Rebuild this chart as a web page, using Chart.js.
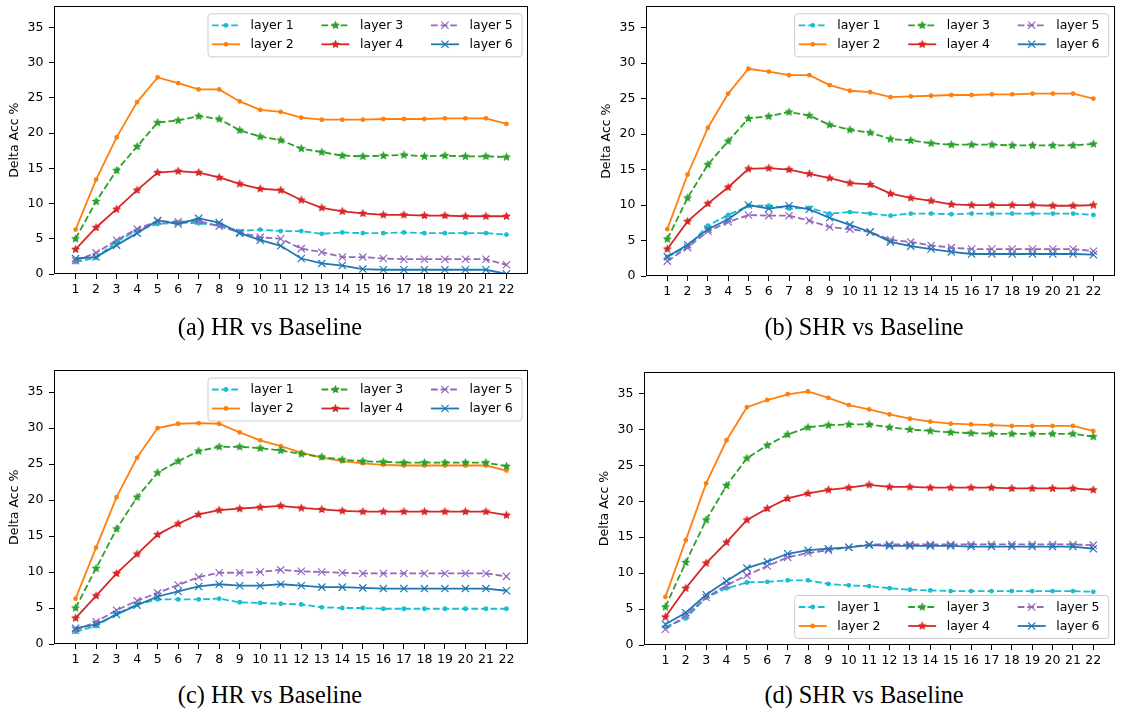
<!DOCTYPE html>
<html>
<head>
<meta charset="utf-8">
<script src="https://cdn.jsdelivr.net/npm/chart.js@4.4.1/dist/chart.umd.min.js"></script>
<style>
body { margin: 0; background: #fff; width: 1121px; height: 713px; position: relative; overflow: hidden; }
canvas { position: absolute; }
.cap { position: absolute; width: 400px; text-align: center; font-family: "Liberation Serif", serif; font-size: 26px; line-height: 26px; color: #000; white-space: nowrap; transform: scaleX(0.935); transform-origin: center; }
</style>
</head>
<body>
<canvas id="chartA" width="540" height="300" style="left:0px;top:0px"></canvas>
<canvas id="chartB" width="529" height="300" style="left:592px;top:0px"></canvas>
<canvas id="chartC" width="540" height="330" style="left:0px;top:340px"></canvas>
<canvas id="chartD" width="531" height="330" style="left:590px;top:340px"></canvas>
<div class="cap" style="left:70px;top:314px">(a) HR vs Baseline</div>
<div class="cap" style="left:664px;top:314px">(b) SHR vs Baseline</div>
<div class="cap" style="left:70px;top:682px">(c) HR vs Baseline</div>
<div class="cap" style="left:664px;top:682px">(d) SHR vs Baseline</div>
<script>
const xLabels = [1, 2, 3, 4, 5, 6, 7, 8, 9, 10, 11, 12, 13, 14, 15, 16, 17, 18, 19, 20, 21, 22];
const yTicks = [0, 5, 10, 15, 20, 25, 30, 35];
const layerNames = ["layer 1", "layer 2", "layer 3", "layer 4", "layer 5", "layer 6"];
const layerColors = ["#17becf", "#ff7f0e", "#2ca02c", "#d62728", "#9467bd", "#1f77b4"];

// (a) HR vs Baseline
const a_layer1 = [1.7, 2.3, 4.6, 6.2, 7.1, 7.3, 7.2, 6.9, 6.1, 6.3, 6.1, 6.1, 5.7, 5.9, 5.8, 5.8, 5.9, 5.8, 5.8, 5.8, 5.8, 5.6];
const a_layer2 = [6.3, 13.4, 19.4, 24.4, 27.9, 27.1, 26.2, 26.2, 24.5, 23.3, 23.0, 22.2, 21.9, 21.9, 21.9, 22.0, 22.0, 22.0, 22.1, 22.1, 22.1, 21.3];
const a_layer3 = [5.0, 10.3, 14.7, 18.1, 21.5, 21.8, 22.4, 22.0, 20.4, 19.5, 19.0, 17.8, 17.3, 16.8, 16.7, 16.8, 16.9, 16.7, 16.8, 16.7, 16.7, 16.6];
const a_layer4 = [3.5, 6.6, 9.2, 11.9, 14.4, 14.6, 14.4, 13.7, 12.8, 12.1, 11.9, 10.5, 9.4, 8.9, 8.6, 8.4, 8.4, 8.3, 8.3, 8.2, 8.2, 8.2];
const a_layer5 = [1.9, 3.0, 4.8, 6.4, 7.5, 7.4, 7.5, 6.8, 5.9, 5.2, 5.0, 3.6, 3.1, 2.4, 2.4, 2.2, 2.1, 2.1, 2.1, 2.1, 2.1, 1.3];
const a_layer6 = [2.2, 2.4, 4.1, 5.8, 7.6, 7.1, 7.9, 7.3, 5.8, 4.8, 4.0, 2.2, 1.5, 1.2, 0.7, 0.6, 0.6, 0.6, 0.6, 0.6, 0.6, 0.0];

// (b) SHR vs Baseline
const b_layer1 = [2.7, 4.1, 7.1, 8.6, 9.9, 9.9, 9.5, 9.6, 8.8, 9.0, 8.8, 8.5, 8.8, 8.8, 8.7, 8.8, 8.8, 8.8, 8.8, 8.8, 8.8, 8.6];
const b_layer2 = [6.6, 14.3, 20.9, 25.7, 29.2, 28.8, 28.3, 28.3, 26.9, 26.1, 25.9, 25.2, 25.3, 25.4, 25.5, 25.5, 25.6, 25.6, 25.7, 25.7, 25.7, 25.0];
const b_layer3 = [5.2, 11.0, 15.7, 19.0, 22.2, 22.5, 23.1, 22.6, 21.3, 20.6, 20.2, 19.3, 19.1, 18.7, 18.5, 18.5, 18.5, 18.4, 18.4, 18.4, 18.4, 18.6];
const b_layer4 = [3.8, 7.7, 10.2, 12.5, 15.1, 15.2, 15.0, 14.4, 13.8, 13.1, 12.9, 11.6, 11.0, 10.6, 10.1, 10.0, 10.0, 10.0, 10.0, 9.9, 9.9, 10.0];
const b_layer5 = [2.1, 4.0, 6.3, 7.6, 8.6, 8.5, 8.5, 7.8, 6.9, 6.6, 6.2, 5.1, 4.8, 4.3, 4.0, 3.8, 3.8, 3.8, 3.8, 3.8, 3.8, 3.5];
const b_layer6 = [2.7, 4.4, 6.6, 8.0, 10.0, 9.5, 9.9, 9.4, 8.2, 7.2, 6.2, 4.8, 4.2, 3.8, 3.4, 3.1, 3.1, 3.1, 3.1, 3.1, 3.1, 3.0];

// (c) HR vs Baseline
const c_layer1 = [1.7, 2.5, 4.2, 5.5, 6.2, 6.2, 6.2, 6.3, 5.8, 5.7, 5.6, 5.5, 5.1, 5.0, 5.0, 4.9, 4.9, 4.9, 4.9, 4.9, 4.9, 4.9];
const c_layer2 = [6.3, 13.4, 20.4, 25.9, 30.0, 30.6, 30.7, 30.6, 29.4, 28.3, 27.5, 26.6, 25.9, 25.4, 25.1, 24.9, 24.8, 24.8, 24.8, 24.8, 24.8, 24.1];
const c_layer3 = [5.0, 10.5, 16.0, 20.4, 23.8, 25.4, 26.8, 27.4, 27.4, 27.2, 26.9, 26.4, 26.0, 25.6, 25.4, 25.3, 25.2, 25.2, 25.2, 25.2, 25.2, 24.7];
const c_layer4 = [3.6, 6.7, 9.8, 12.5, 15.2, 16.7, 18.0, 18.6, 18.8, 19.0, 19.2, 18.9, 18.7, 18.5, 18.4, 18.4, 18.4, 18.4, 18.4, 18.4, 18.4, 17.9];
const c_layer5 = [1.9, 3.1, 4.7, 6.0, 7.1, 8.2, 9.3, 9.9, 9.9, 10.0, 10.3, 10.1, 10.0, 9.9, 9.8, 9.8, 9.8, 9.8, 9.8, 9.8, 9.8, 9.4];
const c_layer6 = [2.2, 2.7, 4.1, 5.4, 6.6, 7.3, 8.0, 8.3, 8.1, 8.1, 8.3, 8.1, 7.9, 7.9, 7.8, 7.7, 7.7, 7.7, 7.7, 7.7, 7.7, 7.4];

// (d) SHR vs Baseline
const d_layer1 = [2.5, 3.7, 6.6, 7.9, 8.7, 8.8, 9.0, 9.0, 8.5, 8.3, 8.2, 7.9, 7.7, 7.6, 7.5, 7.5, 7.5, 7.5, 7.5, 7.5, 7.5, 7.4];
const d_layer2 = [6.7, 14.6, 22.5, 28.5, 33.1, 34.1, 34.9, 35.3, 34.4, 33.4, 32.8, 32.1, 31.5, 31.1, 30.8, 30.7, 30.6, 30.5, 30.5, 30.5, 30.5, 29.8];
const d_layer3 = [5.3, 11.5, 17.4, 22.2, 26.0, 27.8, 29.3, 30.3, 30.6, 30.7, 30.7, 30.3, 30.0, 29.8, 29.6, 29.5, 29.4, 29.4, 29.4, 29.4, 29.4, 29.0];
const d_layer4 = [3.9, 7.9, 11.4, 14.3, 17.4, 19.0, 20.4, 21.1, 21.6, 21.9, 22.3, 22.0, 22.0, 21.9, 21.9, 21.9, 21.9, 21.8, 21.8, 21.8, 21.8, 21.6];
const d_layer5 = [2.2, 4.1, 6.6, 8.3, 9.7, 11.0, 12.2, 12.8, 13.2, 13.6, 14.0, 14.0, 14.0, 14.0, 14.0, 14.0, 14.0, 14.0, 14.0, 14.0, 14.0, 13.9];
const d_layer6 = [2.9, 4.5, 7.0, 8.9, 10.7, 11.6, 12.7, 13.2, 13.4, 13.6, 13.9, 13.8, 13.8, 13.8, 13.8, 13.7, 13.7, 13.7, 13.7, 13.7, 13.7, 13.4];

const fontSize = 12.5;
Chart.defaults.font.family = "'DejaVu Sans', sans-serif";
Chart.defaults.font.size = fontSize;
Chart.defaults.color = "#000";

const dashPattern = [6.7, 2.9];

// filled five point star like matplotlib's '*'
function makeStar(color) {
    const c = document.createElement("canvas");
    c.width = 11; c.height = 11;
    const g = c.getContext("2d");
    const R = 3.7, r = R * 0.382;
    g.beginPath();
    for (let k = 0; k < 10; k++) {
        const ang = -Math.PI / 2 + k * Math.PI / 5;
        const rad = k % 2 === 0 ? R : r;
        const px = 5.5 + rad * Math.cos(ang), py = 5.5 + rad * Math.sin(ang);
        if (k === 0) g.moveTo(px, py); else g.lineTo(px, py);
    }
    g.closePath();
    g.fillStyle = color; g.strokeStyle = color;
    g.lineWidth = 1.1; g.lineJoin = "round";
    g.fill(); g.stroke();
    return c;
}
const starImgs = layerColors.map(makeStar);

function buildDatasets(series) {
    return series.map((values, i) => {
        const marker = i < 2 ? "dot" : (i < 4 ? "star" : "x");
        return {
            label: layerNames[i],
            data: values,
            borderColor: layerColors[i],
            backgroundColor: layerColors[i],
            borderWidth: 1.8,
            borderDash: i % 2 === 0 ? dashPattern : [],
            fill: false,
            tension: 0,
            pointStyle: marker === "dot" ? "circle" : (marker === "star" ? starImgs[i] : "crossRot"),
            pointRadius: marker === "dot" ? 1.8 : (marker === "star" ? 4 : 5.1),
            pointBorderWidth: marker === "star" ? 0 : 1.2,
            pointBackgroundColor: layerColors[i],
            pointBorderColor: layerColors[i],
            order: 6 - i
        };
    });
}

function drawMarker(ctx, ds, x, y) {
    const st = ds.pointStyle;
    ctx.fillStyle = ds.borderColor;
    ctx.strokeStyle = ds.borderColor;
    ctx.lineWidth = ds.pointBorderWidth;
    if (st === "circle") {
        ctx.beginPath(); ctx.arc(x, y, ds.pointRadius, 0, Math.PI * 2); ctx.fill(); ctx.stroke();
    } else if (st === "crossRot") {
        const d = ds.pointRadius * Math.SQRT1_2;
        ctx.beginPath();
        ctx.moveTo(x - d, y - d); ctx.lineTo(x + d, y + d);
        ctx.moveTo(x + d, y - d); ctx.lineTo(x - d, y + d);
        ctx.stroke();
    } else {
        ctx.drawImage(st, x - st.width / 2, y - st.height / 2);
    }
}

// axes box + matplotlib style legend (3 columns, filled column by column)
const frameLegend = {
    id: "frameLegend",
    afterDatasetsDraw(chart, args, opts) {
        const ctx = chart.ctx, a = chart.chartArea;
        ctx.save();
        ctx.strokeStyle = "#000";
        ctx.lineWidth = 1;
        ctx.setLineDash([]);
        const l = Math.round(a.left) + 0.5, t = Math.floor(a.top) + 0.5;
        const r = Math.round(a.right) - 0.5, b = Math.round(a.bottom) - 0.5;
        ctx.strokeRect(l, t, r - l, b - t);

        const bw = 314, bh = 43;
        const bx = a.right - 6.5 - bw;
        const by = opts.loc === "lower" ? a.bottom - 7 - bh : a.top + 7;
        ctx.beginPath();
        ctx.roundRect(bx + 0.5, by + 0.5, bw, bh, 3);
        ctx.fillStyle = "rgba(255,255,255,0.8)";
        ctx.fill();
        ctx.strokeStyle = "#cccccc";
        ctx.stroke();

        const colLine = [4.5, 114, 223.5], colText = [43, 152.5, 262], rows = [12, 31];
        ctx.font = fontSize + "px 'DejaVu Sans'";
        ctx.textBaseline = "middle";
        chart.data.datasets.forEach((ds, i) => {
            const col = Math.floor(i / 2), row = i % 2;
            const y = by + rows[row];
            const x0 = bx + colLine[col], x1 = x0 + 28;
            ctx.strokeStyle = ds.borderColor;
            ctx.lineWidth = ds.borderWidth;
            ctx.setLineDash(ds.borderDash);
            ctx.beginPath(); ctx.moveTo(x0, y); ctx.lineTo(x1, y); ctx.stroke();
            ctx.setLineDash([]);
            drawMarker(ctx, ds, (x0 + x1) / 2, y);
            ctx.fillStyle = "#000";
            ctx.fillText(ds.label, bx + colText[col], y + 0.5);
        });
        ctx.restore();
    }
};

function makeChart(id, series, pad, xH, legendLoc) {
    return new Chart(document.getElementById(id), {
        type: "line",
        data: { labels: xLabels, datasets: buildDatasets(series) },
        plugins: [frameLegend],
        options: {
            responsive: false,
            animation: false,
            devicePixelRatio: 1,
            layout: { padding: { left: 0, top: pad.top, right: pad.right, bottom: 0 } },
            plugins: {
                legend: { display: false },
                tooltip: { enabled: false },
                frameLegend: { loc: legendLoc }
            },
            scales: {
                x: {
                    type: "linear",
                    min: -0.05,
                    max: 23.05,
                    afterBuildTicks: s => { s.ticks = xLabels.map(v => ({ value: v })); },
                    ticks: { autoSkip: false, maxRotation: 0, padding: 3.2, font: { size: fontSize } },
                    grid: { display: true, drawOnChartArea: false, drawTicks: true, tickLength: 5, color: "#000", lineWidth: 1 },
                    border: { display: false },
                    afterFit: s => { s.height = xH; s.paddingLeft = 0; s.paddingRight = 0; }
                },
                y: {
                    min: 0,
                    max: 38,
                    afterBuildTicks: s => { s.ticks = yTicks.map(v => ({ value: v })); },
                    ticks: { padding: 5.5, font: { size: fontSize } },
                    grid: { display: true, drawOnChartArea: false, drawTicks: true, tickLength: 5, color: "#000", lineWidth: 1 },
                    border: { display: false },
                    title: { display: true, text: "Delta Acc %", font: { size: fontSize }, padding: { top: 7.5, bottom: 0 } },
                    afterFit: s => { s.width = 54; s.paddingTop = 0; s.paddingBottom = 0; }
                }
            }
        }
    });
}

makeChart("chartA", [a_layer1, a_layer2, a_layer3, a_layer4, a_layer5, a_layer6], { top: 0.5, right: 12 }, 26, "upper");
makeChart("chartB", [b_layer1, b_layer2, b_layer3, b_layer4, b_layer5, b_layer6], { top: 3, right: 3 }, 24, "upper");
makeChart("chartC", [c_layer1, c_layer2, c_layer3, c_layer4, c_layer5, c_layer6], { top: 30.5, right: 12 }, 26, "upper");
makeChart("chartD", [d_layer1, d_layer2, d_layer3, d_layer4, d_layer5, d_layer6], { top: 32, right: 3 }, 25, "lower");
</script>
</body>
</html>
